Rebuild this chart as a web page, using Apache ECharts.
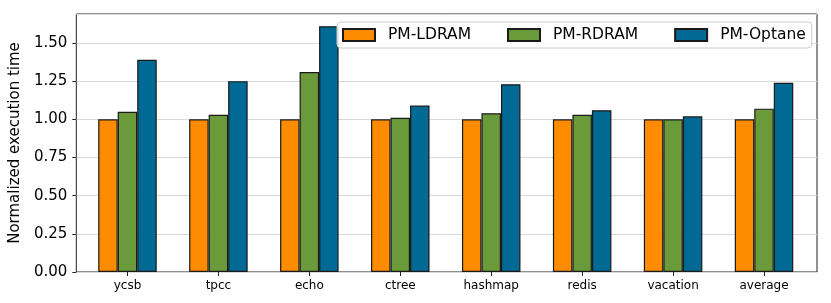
<!DOCTYPE html>
<html>
<head>
<meta charset="utf-8">
<script src="https://cdn.jsdelivr.net/npm/echarts@6/dist/echarts.min.js"></script>
<style>
html,body{margin:0;padding:0;background:#fff;}
#chart{width:831px;height:303px;}
</style>
</head>
<body>
<div id="chart"></div>
<script>
const categories = ['ycsb', 'tpcc', 'echo', 'ctree', 'hashmap', 'redis', 'vacation', 'average'];
const seriesNames = ['PM-LDRAM', 'PM-RDRAM', 'PM-Optane'];
const pmLDRAM = [1.00, 1.00, 1.00, 1.00, 1.00, 1.00, 1.00, 1.00];
const pmRDRAM = [1.05, 1.03, 1.31, 1.01, 1.04, 1.03, 1.00, 1.07];
const pmOptane = [1.39, 1.25, 1.61, 1.09, 1.23, 1.06, 1.02, 1.24];
const yMin = 0;
const yMax = 1.69;
const yStep = 0.25;
const yTitle = 'Normalized execution time';

const colors = ['#ff8c00', '#6a9a3a', '#006994'];
const font = 'DejaVu Sans';

const chart = echarts.init(document.getElementById('chart'), null, {renderer: 'canvas'});

function bar(name, data, color) {
  return {
    name: name,
    type: 'bar',
    xAxisIndex: 1,
    yAxisIndex: 1,
    data: data,
    barWidth: 19.5,
    barGap: '0%',
    itemStyle: {color: color, borderColor: '#1a1a1a', borderWidth: 1.2},
    emphasis: {disabled: true},
    z: 3
  };
}

chart.setOption({
  animation: false,
  backgroundColor: '#fff',
  textStyle: {fontFamily: font},
  grid: [
    {left: 75, right: 14, top: 14, bottom: 31, show: true, borderColor: '#222', borderWidth: 1, backgroundColor: 'transparent'},
    {left: 82, right: 21.5, top: 14, bottom: 31}
  ],
  xAxis: [
    {gridIndex: 0, type: 'value', show: false, min: 0, max: 1},
    {
      gridIndex: 1, type: 'category', data: categories,
      axisLine: {show: false},
      axisTick: {show: true, alignWithLabel: true, length: 4, lineStyle: {color: '#222'}},
      axisLabel: {color: '#000', fontSize: 12, fontFamily: font, margin: 8, interval: 0},
      splitLine: {show: false}
    }
  ],
  yAxis: [
    {
      gridIndex: 0, type: 'value', min: yMin, max: yMax, interval: yStep,
      name: yTitle, nameLocation: 'middle', nameGap: 46.5,
      nameTextStyle: {fontSize: 15, color: '#000', fontFamily: font},
      axisLine: {show: false},
      axisTick: {show: true, length: 4, lineStyle: {color: '#222'}},
      axisLabel: {color: '#000', fontSize: 15, fontFamily: font, margin: 9, showMaxLabel: false,
        formatter: v => v.toFixed(2)},
      splitLine: {show: true, lineStyle: {color: '#dadada', width: 1}}
    },
    {gridIndex: 1, type: 'value', min: yMin, max: yMax, show: false, splitLine: {show: false}}
  ],
  legend: {
    left: 337, top: 22,
    icon: 'rect',
    itemWidth: 32, itemHeight: 12, itemGap: 36,
    padding: [5, 6, 5, 5],
    backgroundColor: 'rgba(255,255,255,0.85)',
    borderColor: '#cccccc', borderWidth: 1, borderRadius: 4,
    textStyle: {fontSize: 15.5, color: '#000', fontFamily: font, padding: [0, 0, 0, 8]},
    data: seriesNames
  },
  series: [
    bar(seriesNames[0], pmLDRAM, colors[0]),
    bar(seriesNames[1], pmRDRAM, colors[1]),
    bar(seriesNames[2], pmOptane, colors[2])
  ]
});
</script>
</body>
</html>
